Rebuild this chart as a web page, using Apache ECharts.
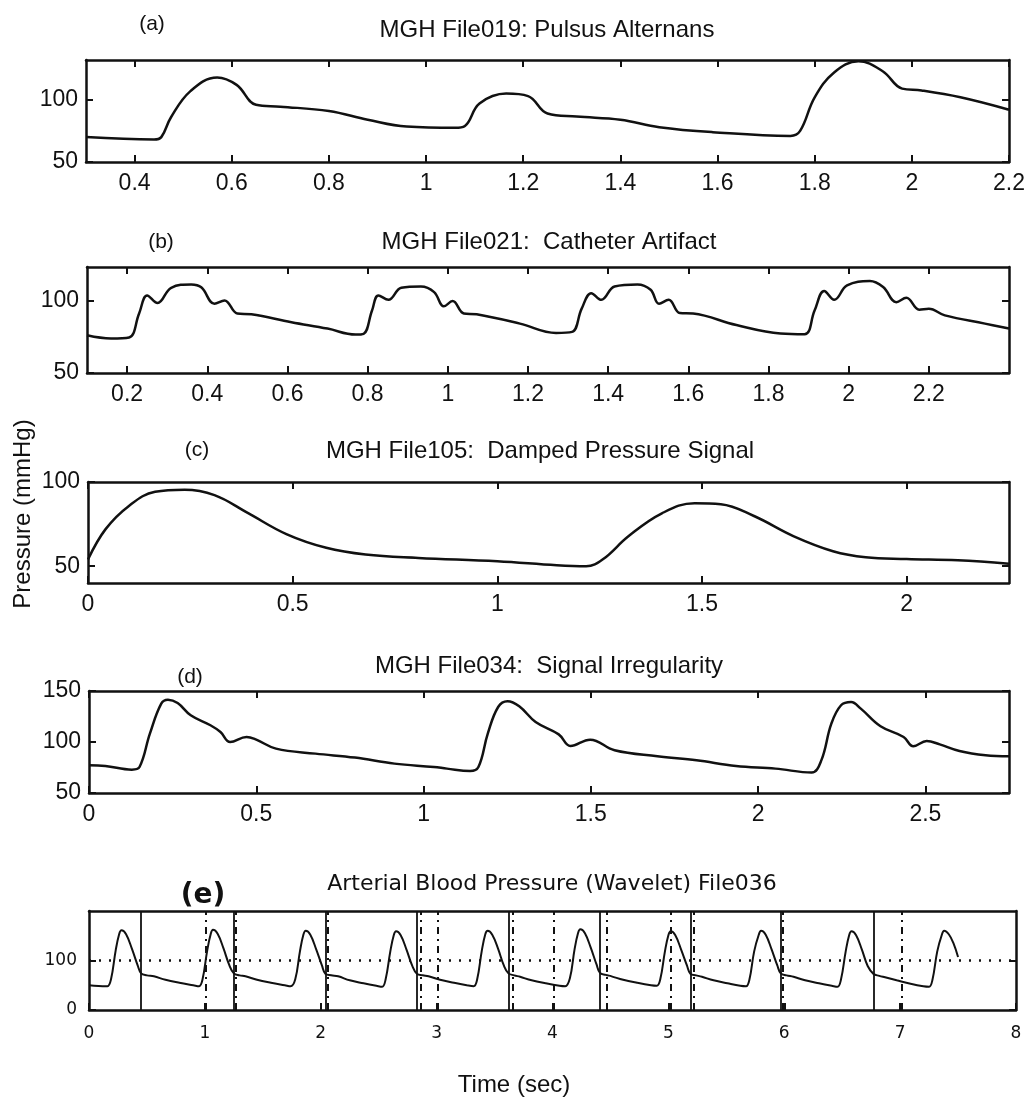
<!DOCTYPE html>
<html>
<head>
<meta charset="utf-8">
<title>Arterial pressure waveforms</title>
<script src="https://cdn.jsdelivr.net/npm/echarts@6/dist/echarts.min.js"></script>
<style>
    html, body { margin: 0; padding: 0; background: #fff; }
    #main { width: 1031px; height: 1114px; }
</style>
</head>
<body>
<div id="main"></div>
<script>
// (a) MGH File019: pulsus alternans
var timeA = [0.30, 0.44, 0.455, 0.475, 0.515, 0.57, 0.61, 0.65, 0.70, 0.80, 0.88, 0.96, 1.06, 1.08, 1.11, 1.165,
    1.21, 1.25, 1.31, 1.40, 1.48, 1.59, 1.75, 1.77, 1.80, 1.84, 1.89, 1.94, 1.98, 2.02, 2.10, 2.20];
var pressA = [70, 68, 70, 86, 107, 118, 112, 96, 94.5, 91, 84, 78.5, 77.5, 79, 97, 105,
    103, 89, 86.5, 84, 78, 74, 71, 75, 102, 122, 131, 123, 109, 107.5, 102, 92];
var xTicksA = [0.4, 0.6, 0.8, 1, 1.2, 1.4, 1.6, 1.8, 2, 2.2];

// (b) MGH File021: catheter artifact
var timeB = [0.10, 0.16, 0.205, 0.23, 0.25, 0.276, 0.31, 0.36, 0.385, 0.418, 0.443, 0.475, 0.51, 0.61, 0.70,
    0.77, 0.79, 0.811, 0.827, 0.852, 0.884, 0.933, 0.966, 0.99, 1.012, 1.04, 1.072, 1.18, 1.27, 1.31,
    1.334, 1.358, 1.383, 1.416, 1.473, 1.506, 1.527, 1.551, 1.579, 1.612, 1.72, 1.83, 1.89, 1.915, 1.939,
    1.964, 1.996, 2.053, 2.086, 2.119, 2.144, 2.176, 2.20, 2.24, 2.34, 2.40];
var pressB = [76, 73.8, 74.5, 91, 103.4, 98.2, 108.7, 111, 109, 97.7, 100, 91, 90.4, 85, 80.6,
    76.5, 77, 93, 103.4, 100.4, 108.7, 109.6, 105.7, 95.9, 99.5, 91, 90.4, 84, 77.6, 78.3,
    94.3, 105, 100.4, 109.6, 111, 107.3, 97.7, 100.4, 91.3, 90.9, 83, 77.2, 76.7, 93, 106.4,
    100.4, 110.3, 113.3, 109.2, 98.8, 101.8, 93.6, 94.3, 89.7, 84, 80.6];
var xTicksB = [0.2, 0.4, 0.6, 0.8, 1, 1.2, 1.4, 1.6, 1.8, 2, 2.2];

// (c) MGH File105: damped pressure signal
var timeC = [0, 0.043, 0.10, 0.164, 0.236, 0.309, 0.389, 0.486, 0.582, 0.678, 0.807, 1.0, 1.145, 1.217,
    1.257, 1.321, 1.402, 1.482, 1.546, 1.627, 1.723, 1.82, 1.90, 2.0, 2.125, 2.25];
var pressC = [54, 72, 85.8, 94.2, 95.4, 92.2, 81.8, 68.9, 60.9, 56.9, 54.9, 52.9, 50.5, 49.9,
    53.9, 67.9, 81.4, 87.4, 86.8, 79.8, 67.9, 58.9, 55.3, 54.3, 53.5, 51.5];
var xTicksC = [0, 0.5, 1, 1.5, 2];

// (d) MGH File034: signal irregularity
var timeD = [0, 0.049, 0.128, 0.151, 0.182, 0.216, 0.236, 0.265, 0.304, 0.363, 0.393, 0.422, 0.471, 0.50, 0.559,
    0.677, 0.795, 0.913, 1.031, 1.07, 1.139, 1.164, 1.192, 1.223, 1.251, 1.286, 1.335, 1.404, 1.439, 1.498,
    1.571, 1.699, 1.816, 1.934, 2.052, 2.16, 2.189, 2.219, 2.248, 2.278, 2.307, 2.366, 2.435, 2.464, 2.504,
    2.543, 2.602, 2.68, 2.75];
var pressD = [77.2, 76.5, 72.9, 75.5, 108.2, 137.6, 141.5, 138.2, 126.2, 116.4, 109.8, 100, 104.9, 102.3, 93.5,
    88.6, 84.7, 78.8, 75.5, 73.9, 71.6, 75.5, 108.2, 134.3, 139.9, 135, 119.6, 107.5, 96.1, 102.3,
    91.9, 86, 82, 76.5, 73.9, 70, 82, 118, 136, 139.2, 132.7, 115.4, 104.9, 95.8, 101,
    97.7, 91.2, 87, 86];
var xTicksD = [0, 0.5, 1, 1.5, 2, 2.5];

// (e) File036 arterial blood pressure with wavelet beat markers
var timeE = [0, 0.15,
    0.16, 0.19, 0.23, 0.26, 0.28, 0.32, 0.37, 0.42, 0.45, 0.50, 0.56, 0.66, 0.78, 0.90, 0.95,
    0.98, 1.02, 1.05, 1.07, 1.11, 1.16, 1.21, 1.25, 1.30, 1.35, 1.45, 1.57, 1.69, 1.74,
    1.78, 1.82, 1.85, 1.87, 1.91, 1.96, 2.01, 2.04, 2.09, 2.15, 2.25, 2.37, 2.48, 2.53,
    2.56, 2.60, 2.63, 2.65, 2.69, 2.74, 2.79, 2.83, 2.88, 2.93, 3.03, 3.15, 3.26, 3.32,
    3.35, 3.39, 3.42, 3.44, 3.48, 3.53, 3.58, 3.62, 3.67, 3.72, 3.82, 3.94, 4.06, 4.11,
    4.15, 4.19, 4.22, 4.24, 4.28, 4.33, 4.38, 4.41, 4.46, 4.51, 4.61, 4.73, 4.85, 4.90,
    4.93, 4.97, 5.00, 5.02, 5.06, 5.11, 5.16, 5.19, 5.24, 5.29, 5.39, 5.51, 5.62, 5.67,
    5.70, 5.74, 5.78, 5.80, 5.84, 5.89, 5.94, 5.97, 6.02, 6.08, 6.18, 6.30, 6.41, 6.46,
    6.49, 6.53, 6.56, 6.58, 6.62, 6.67, 6.72, 6.77, 6.82, 6.87, 6.97, 7.09, 7.20, 7.25,
    7.28, 7.32, 7.36, 7.38, 7.42, 7.46, 7.50];
var pressE = [50, 48,
    48, 62, 120, 153, 161, 153, 124, 90, 74, 70, 68, 61, 55, 50, 48,
    62, 120, 153, 162, 154, 125, 91, 74, 70, 68, 61, 55, 50, 48,
    62, 118, 152, 160, 152, 123, 90, 73, 70, 68, 60, 54, 49, 47,
    62, 118, 151, 159, 151, 122, 89, 73, 70, 68, 61, 55, 50, 48,
    62, 120, 153, 160, 152, 124, 90, 74, 70, 67, 60, 54, 49, 48,
    64, 122, 155, 163, 155, 126, 92, 75, 71, 68, 61, 55, 50, 49,
    62, 118, 151, 159, 151, 122, 90, 73, 70, 67, 60, 54, 49, 48,
    62, 118, 152, 160, 152, 123, 90, 74, 70, 67, 60, 54, 49, 47,
    62, 118, 151, 159, 151, 122, 89, 73, 69, 66, 60, 53, 48, 47,
    62, 118, 152, 160, 153, 135, 107];
var beatMarksE = [0.45, 1.25, 2.04, 2.83, 3.62, 4.41, 5.19, 5.97, 6.77];
var waveletMarksE = [1.01, 1.27, 2.06, 2.86, 3.01, 3.66, 4.01, 4.47, 5.02, 5.22, 5.99, 7.01];
var xTicksE = [0, 1, 2, 3, 4, 5, 6, 7, 8];

var pairs = function (t, p) {
    var out = [];
    for (var i = 0; i < t.length; i++) {
        out.push([t[i], p[i]]);
    }
    return out;
};

var initChart = function () {
    var chart = echarts.init(document.getElementById('main'), null, {renderer: 'canvas'});
    var ink = '#111';
    var helv = 'Liberation Sans, Arial, Helvetica, sans-serif';
    var wide = 'DejaVu Sans, Verdana, sans-serif';

    var panels = [
        {grid: {left: 86, top: 60, width: 923, height: 102}, xMin: 0.3, xMax: 2.2, yMin: 50, yMax: 132,
            xTicks: xTicksA, yTicks: [50, 100], data: pairs(timeA, pressA)},
        {grid: {left: 87, top: 267, width: 922, height: 106}, xMin: 0.1, xMax: 2.4, yMin: 50, yMax: 123,
            xTicks: xTicksB, yTicks: [50, 100], data: pairs(timeB, pressB)},
        {grid: {left: 88, top: 482, width: 921, height: 101}, xMin: 0, xMax: 2.25, yMin: 40, yMax: 100,
            xTicks: xTicksC, yTicks: [50, 100], data: pairs(timeC, pressC)},
        {grid: {left: 89, top: 691, width: 920, height: 102}, xMin: 0, xMax: 2.75, yMin: 50, yMax: 150,
            xTicks: xTicksD, yTicks: [50, 100, 150], data: pairs(timeD, pressD)},
        {grid: {left: 89, top: 911, width: 927, height: 99}, xMin: 0, xMax: 8, yMin: 0, yMax: 200,
            xTicks: xTicksE, yTicks: [0, 100], data: pairs(timeE, pressE), small: true}
    ];

    var grids = [], xAxes = [], yAxes = [], series = [];
    panels.forEach(function (p, i) {
        grids.push({left: p.grid.left, top: p.grid.top, width: p.grid.width, height: p.grid.height,
            containLabel: false, outerBoundsMode: 'none', show: false});
        var lbl = p.small
            ? {fontFamily: wide, fontSize: 17, fontWeight: 'normal', color: ink}
            : {fontFamily: helv, fontSize: 23, color: ink};
        var line = {lineStyle: {color: ink, width: 2.5}};
        [true, false].forEach(function (bottom) {
            xAxes.push({
                type: 'value', gridIndex: i, min: p.xMin, max: p.xMax,
                position: bottom ? 'bottom' : 'top',
                axisLine: {show: true, onZero: false, lineStyle: line.lineStyle},
                axisTick: {show: bottom || !p.small, inside: true, length: 7, customValues: p.xTicks,
                    lineStyle: {color: ink, width: 2}},
                axisLabel: {show: bottom, customValues: p.xTicks, margin: p.small ? 15 : 10,
                    fontFamily: lbl.fontFamily, fontSize: lbl.fontSize, fontWeight: lbl.fontWeight, color: ink},
                splitLine: {show: false}
            });
            yAxes.push({
                type: 'value', gridIndex: i, min: p.yMin, max: p.yMax,
                position: bottom ? 'left' : 'right',
                axisLine: {show: true, onZero: false, lineStyle: line.lineStyle},
                axisTick: {show: true, inside: true, length: 7, customValues: p.yTicks,
                    lineStyle: {color: ink, width: 2}},
                axisLabel: {show: bottom, customValues: p.yTicks, margin: p.small ? 12 : 8,
                    fontFamily: lbl.fontFamily, fontSize: lbl.fontSize, fontWeight: lbl.fontWeight, color: ink},
                splitLine: {show: false}
            });
        });
        var s = {
            type: 'line', xAxisIndex: 2 * i, yAxisIndex: 2 * i,
            data: p.data, showSymbol: false, smooth: 0.4,
            lineStyle: {color: ink, width: p.small ? 2 : 2.5}
        };
        if (p.small) {
            var marks = [];
            beatMarksE.forEach(function (v) {
                marks.push({xAxis: v, lineStyle: {type: 'solid', width: 1.8, color: ink}});
            });
            waveletMarksE.forEach(function (v) {
                marks.push({xAxis: v, lineStyle: {type: [7, 5, 2, 5], width: 2, color: ink}});
            });
            marks.push({yAxis: 100, lineStyle: {type: [2, 8], width: 2.5, color: ink}});
            s.markLine = {silent: true, symbol: 'none', label: {show: false}, data: marks};
        }
        series.push(s);
    });

    var txt = function (text, x, y, font, rot) {
        return {type: 'text', x: x, y: y, rotation: rot || 0, silent: true,
            style: {text: text, font: font, fill: ink, textAlign: 'center', textVerticalAlign: 'middle',
                align: 'center', verticalAlign: 'middle'}};
    };
    var titleFont = '24px ' + helv;
    var tagFont = '21px ' + helv;

    var option = {
        animation: false,
        backgroundColor: '#fff',
        grid: grids,
        xAxis: xAxes,
        yAxis: yAxes,
        series: series,
        graphic: [
            txt('MGH File019: Pulsus Alternans', 547, 30, titleFont),
            txt('(a)', 152, 24, tagFont),
            txt('MGH File021:  Catheter Artifact', 549, 242, titleFont),
            txt('(b)', 161, 242, tagFont),
            txt('MGH File105:  Damped Pressure Signal', 540, 451, titleFont),
            txt('(c)', 197, 450, tagFont),
            txt('MGH File034:  Signal Irregularity', 549, 666, titleFont),
            txt('(d)', 190, 677, tagFont),
            txt('Arterial Blood Pressure (Wavelet) File036', 552, 884, '22px ' + wide),
            txt('(e)', 203, 896, 'bold 28px ' + wide),
            txt('Pressure (mmHg)', 23, 514, '24px ' + helv, Math.PI / 2),
            txt('Time (sec)', 514, 1085, '24px ' + helv)
        ]
    };
    chart.setOption(option);
};

window.onload = function () {
    initChart();
};
</script>
</body>
</html>
